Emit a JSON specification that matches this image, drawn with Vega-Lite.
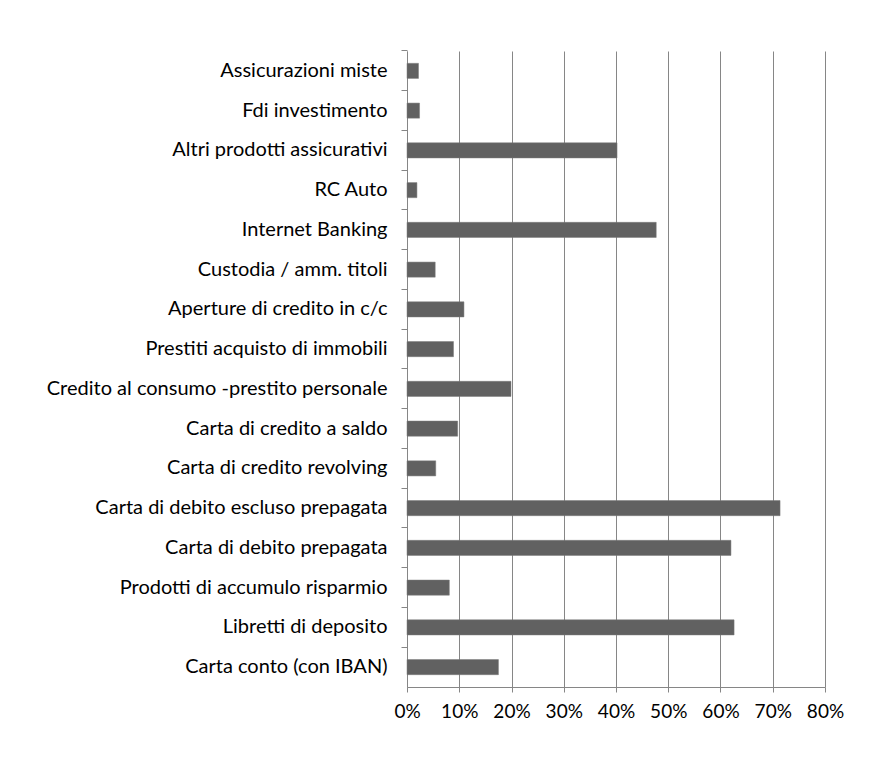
{
  "$schema": "https://vega.github.io/schema/vega-lite/v6.json",
  "autosize": {"type": "none"},
  "padding": {"left": 407, "top": 51, "right": 55, "bottom": 81},
  "width": 418,
  "height": 636,
  "background": "white",
  "data": {
    "values": [
      {"prodotto": "Assicurazioni miste", "quota": 0.022},
      {"prodotto": "Fdi investimento", "quota": 0.024},
      {"prodotto": "Altri prodotti assicurativi", "quota": 0.402},
      {"prodotto": "RC Auto", "quota": 0.019},
      {"prodotto": "Internet Banking", "quota": 0.477},
      {"prodotto": "Custodia / amm. titoli", "quota": 0.054},
      {"prodotto": "Aperture di credito in c/c", "quota": 0.109},
      {"prodotto": "Prestiti acquisto di immobili\u00a0", "quota": 0.089},
      {"prodotto": "Credito al consumo -prestito personale\u00a0", "quota": 0.199},
      {"prodotto": "Carta di credito a saldo", "quota": 0.097},
      {"prodotto": "Carta di credito revolving", "quota": 0.055},
      {"prodotto": "Carta di debito escluso prepagata", "quota": 0.714},
      {"prodotto": "Carta di debito prepagata", "quota": 0.620},
      {"prodotto": "Prodotti di accumulo risparmio", "quota": 0.081},
      {"prodotto": "Libretti di deposito", "quota": 0.626},
      {"prodotto": "Carta conto (con IBAN)", "quota": 0.175}
    ]
  },
  "mark": {"type": "bar", "color": "#616161", "stroke": "#7a7a7a", "strokeWidth": 0.5},
  "encoding": {
    "y": {
      "field": "prodotto",
      "type": "nominal",
      "sort": null,
      "title": null,
      "scale": {"paddingInner": 0.62, "paddingOuter": 0.31},
      "axis": {
        "bandPosition": -0.816,
        "domainColor": "#868686",
        "tickColor": "#868686",
        "tickSize": 6,
        "labelPadding": 14,
        "labelFont": "Lato",
        "labelFontSize": 20,
        "labelColor": "#000000",
        "labelLimit": 0,
        "grid": false
      }
    },
    "x": {
      "field": "quota",
      "type": "quantitative",
      "title": null,
      "scale": {"domain": [0, 0.8], "nice": false},
      "axis": {
        "values": [0, 0.1, 0.2, 0.3, 0.4, 0.5, 0.6, 0.7, 0.8],
        "format": ".0%",
        "grid": true,
        "gridColor": "#868686",
        "gridOpacity": 1,
        "domainColor": "#868686",
        "tickColor": "#868686",
        "tickSize": 5,
        "labelPadding": 10,
        "labelFont": "Lato",
        "labelFontSize": 19,
        "labelOverlap": false,
        "labelFlush": false,
        "labelColor": "#000000"
      }
    }
  },
  "config": {"view": {"stroke": null}}
}
